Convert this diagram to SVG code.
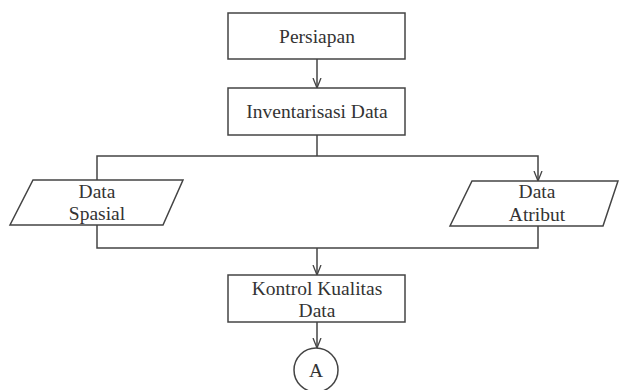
<svg xmlns="http://www.w3.org/2000/svg" width="619" height="390" viewBox="0 0 619 390">
<style>
.shape{fill:#fff;stroke:#444;stroke-width:1.5}
.conn{fill:none;stroke:#444;stroke-width:1.5}
text{font-family:"Liberation Serif","Times New Roman",serif;font-size:19.5px;fill:#333;text-anchor:middle}
</style>
<defs>
<marker id="arr" viewBox="0 0 10 10" refX="10" refY="5" markerWidth="10" markerHeight="10" markerUnits="userSpaceOnUse" orient="auto">
<path d="M0,1 L10,5 L0,9" fill="none" stroke="#444" stroke-width="1.3"/>
</marker>
</defs>
<rect width="619" height="390" fill="#fff"/>
<g id="connectors">
<line class="conn" x1="317" y1="59" x2="317" y2="88" marker-end="url(#arr)"/>
<line class="conn" x1="317" y1="135" x2="317" y2="156"/>
<polyline class="conn" points="97,180 97,156 538,156 538,181" marker-end="url(#arr)"/>
<polyline class="conn" points="97,225 97,248 538,248 538,226"/>
<line class="conn" x1="317" y1="248" x2="317" y2="275" marker-end="url(#arr)"/>
<line class="conn" x1="317" y1="322" x2="317" y2="348" marker-end="url(#arr)"/>
</g>
<g id="persiapan">
<rect class="shape" x="228" y="13" width="177" height="46"/>
<text x="317" y="43">Persiapan</text>
</g>
<g id="inventarisasi">
<rect class="shape" x="228" y="88" width="177" height="47"/>
<text x="317" y="118">Inventarisasi Data</text>
</g>
<g id="data-spasial">
<polygon class="shape" points="33,180 183,180 163,225 10,225"/>
<text x="97" y="198">Data</text>
<text x="97" y="220">Spasial</text>
</g>
<g id="data-atribut">
<polygon class="shape" points="472,181 618,181 603,226 450,226"/>
<text x="537" y="198">Data</text>
<text x="537" y="221">Atribut</text>
</g>
<g id="kontrol">
<rect class="shape" x="228" y="275" width="177" height="47"/>
<text x="317" y="295">Kontrol Kualitas</text>
<text x="317" y="317">Data</text>
</g>
<g id="connector-a">
<circle class="shape" cx="316" cy="370" r="22"/>
<text x="316" y="377">A</text>
</g>
</svg>
